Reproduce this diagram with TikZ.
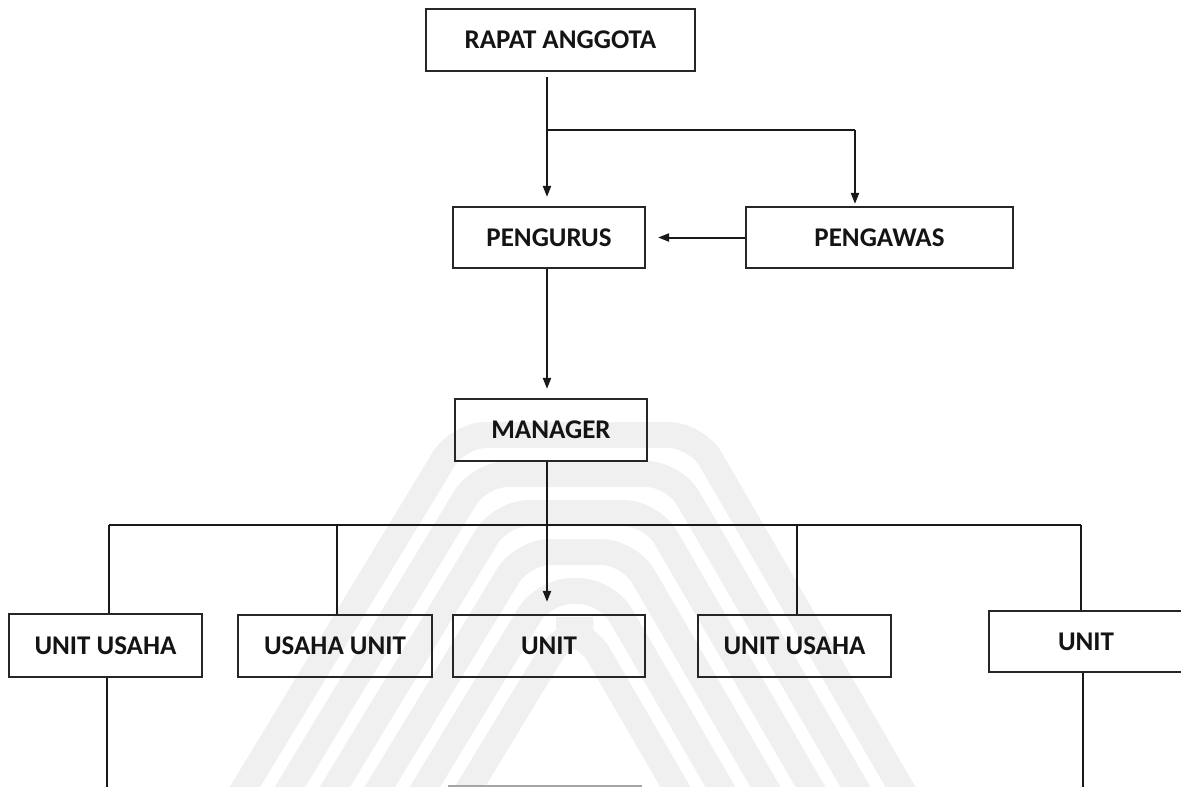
\documentclass[tikz,border=0pt]{standalone}
\usepackage{fontspec}
\setmainfont{Carlito}
\usetikzlibrary{arrows.meta,calc}
\begin{document}
\begin{tikzpicture}[x=1pt,y=-1pt,
  box/.style={draw=black!85,line width=2.2pt,inner sep=0pt,
    font=\fontsize{27}{31}\selectfont\bfseries,text=black!92},
  conn/.style={draw=black!90,line width=2pt},
  arr/.style={conn,-{Triangle[length=11pt,width=8pt]}},
  wm/.style={draw=black!6,line width=26pt,rounded corners=28pt}]
\useasboundingbox (0,0) rectangle (1181,787);
\clip (0,0) rectangle (1181,787);
% watermark
\foreach \k in {0,...,5}{
  \pgfmathsetmacro{\yt}{435+39*\k}
  \pgfmathsetmacro{\lb}{237+45*\k}
  \pgfmathsetmacro{\rb}{908-45*\k}
  \pgfmathsetmacro{\lt}{245+45*\k+(787-\yt)/1.65}
  \pgfmathsetmacro{\rt}{900-45*\k-(787-\yt)/1.73}
  \draw[wm] (\lb,800) -- (\lt,\yt) -- (\rt,\yt) -- (\rb,800);
}
% nodes
\node[box,minimum width=269pt,minimum height=62pt] (rapat) at (560.5,40) {RAPAT ANGGOTA};
\node[box,minimum width=192pt,minimum height=61pt] (pengurus) at (549,237.5) {PENGURUS};
\node[box,minimum width=267pt,minimum height=61pt] (pengawas) at (879.5,237.5) {PENGAWAS};
\node[box,minimum width=192pt,minimum height=62pt] (manager) at (551,430) {MANAGER};
\node[box,minimum width=193pt,minimum height=63pt] (u1) at (105.5,645.5) {UNIT USAHA};
\node[box,minimum width=194pt,minimum height=62pt] (u2) at (335,646) {USAHA UNIT};
\node[box,minimum width=192pt,minimum height=62pt] (u3) at (549,646) {UNIT};
\node[box,minimum width=193pt,minimum height=62pt] (u4) at (794.5,646) {UNIT USAHA};
\node[box,minimum width=194pt,minimum height=61pt] (u5) at (1086,641.5) {UNIT};
% coordinates
\coordinate (b1) at (547,130);
\coordinate (b2) at (855,130);
\coordinate (bus) at (547,525);
\coordinate (busL) at (109,525);
\coordinate (bus2) at (337,525);
\coordinate (bus4) at (797,525);
\coordinate (busR) at (1081,525);
\coordinate (endL) at (107,787);
\coordinate (endR) at (1083,787);
% connectors
\draw[arr,shorten <=5pt,shorten >=9pt] (b1 |- rapat.south) -- (b1 |- pengurus.north);
\draw[conn] (b1) -- (b2);
\draw[arr,shorten >=2pt] (b2) -- (b2 |- pengawas.north);
\draw[arr,shorten >=12pt] (pengawas.west) -- (pengurus.east);
\draw[arr,shorten >=9pt] (b1 |- pengurus.south) -- (b1 |- manager.north);
\draw[conn] (b1 |- manager.south) -- (bus);
\draw[conn] (busL) -- (busR);
\draw[conn] (busL) -- (busL |- u1.north);
\draw[conn] (bus2) -- (bus2 |- u2.north);
\draw[arr,shorten >=12pt] (bus) -- (bus |- u3.north);
\draw[conn] (bus4) -- (bus4 |- u4.north);
\draw[conn] (busR) -- (busR |- u5.north);
\draw[conn] (endL |- u1.south) -- (endL);
\draw[conn] (endR |- u5.south) -- (endR);
% cut-off box edge at the bottom
\draw[black!35,line width=2pt] (448,786) -- (642,786);
\end{tikzpicture}
\end{document}
